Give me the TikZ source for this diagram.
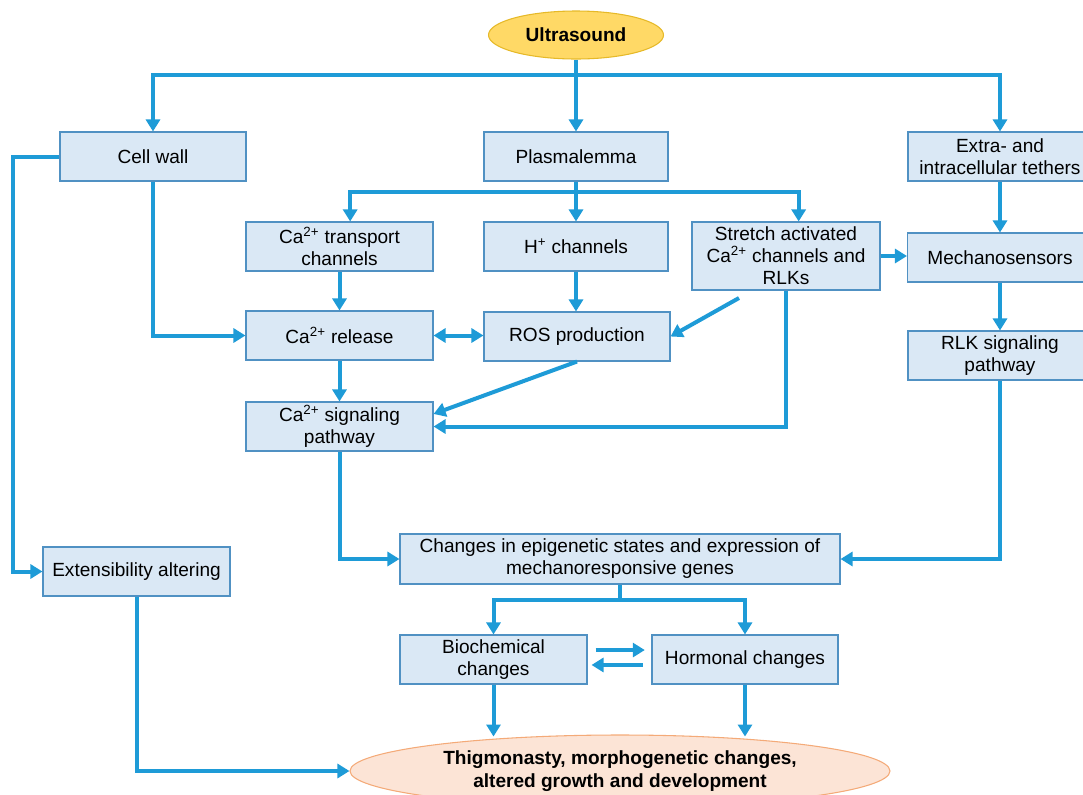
\documentclass[tikz,border=0pt]{standalone}
\usepackage{fontspec}
\setmainfont{Liberation Sans}
\usetikzlibrary{arrows.meta,shapes.geometric}
\definecolor{ln}{RGB}{30,155,215}
\definecolor{bxfill}{RGB}{218,232,245}
\definecolor{bxdraw}{RGB}{80,145,195}
\definecolor{usfill}{RGB}{255,217,102}
\definecolor{usdraw}{RGB}{230,185,40}
\definecolor{endfill}{RGB}{252,228,214}
\definecolor{enddraw}{RGB}{244,170,120}
\begin{document}
\begin{tikzpicture}[x=0.75pt,y=-0.75pt,
  txt/.style={font=\fontsize{14.3}{16.5}\selectfont},
  box/.style={txt,draw=bxdraw,fill=bxfill,line width=0.8pt,align=center,inner sep=0pt},
  bw/.style={minimum width=#1*0.75pt},
  bh/.style={minimum height=#1*0.75pt},
  tip/.tip={Triangle[length=9pt,width=10.5pt]},
  conn/.style={draw=ln,line width=3pt,-tip},
  plain/.style={draw=ln,line width=3pt},
  oval/.style={ellipse,inner sep=0pt,align=center,line width=0.8pt,font=\fontsize{14.3}{17}\selectfont\bfseries}]
\useasboundingbox (0,0) rectangle (1083,794);

% nodes
\node[oval,draw=usdraw,fill=usfill,bw=175,bh=48] (us) at (576,35) {Ultrasound};
\node[box,bw=186,bh=49] (cw) at (153,156.5) {Cell wall};
\node[box,bw=184,bh=49] (pl) at (576,156.5) {Plasmalemma};
\node[box,bw=184,bh=49] (ex) at (1000,156.5) {Extra- and\\intracellular tethers};
\node[box,bw=187,bh=49] (cat) at (339.5,246.5) {Ca\textsuperscript{2+} transport\\channels};
\node[box,bw=184,bh=49] (hp) at (576,246.5) {H\textsuperscript{+} channels};
\node[box,bw=188,bh=68] (st) at (786,256) {Stretch activated\\Ca\textsuperscript{2+} channels and\\RLKs};
\node[box,bw=185,bh=49] (me) at (1000,257.5) {Mechanosensors};
\node[box,bw=187,bh=49] (car) at (339.5,335.5) {Ca\textsuperscript{2+} release};
\node[box,bw=186,bh=49] (ros) at (577,336.5) {ROS production};
\node[box,bw=184,bh=49] (rlk) at (1000,355.5) {RLK signaling\\pathway};
\node[box,bw=187,bh=49] (cas) at (339.5,426.5) {Ca\textsuperscript{2+} signaling\\pathway};
\node[box,bw=440,bh=50] (chg) at (620,559) {Changes in epigenetic states and expression of\\mechanoresponsive genes};
\node[box,bw=187,bh=49] (ext) at (136.5,571.5) {Extensibility altering};
\node[box,bw=187,bh=49] (bio) at (493.5,659.5) {Biochemical\\changes};
\node[box,bw=186,bh=49] (hor) at (745,659.5) {Hormonal changes};
\node[oval,draw=enddraw,fill=endfill,bw=540,bh=72] (end) at (620,771) {Thigmonasty, morphogenetic changes,\\altered growth and development};

% top distribution
\coordinate (top) at (576,75);
\draw[plain] (us.south) -- (top);
\draw[conn] (top) -| (cw.north);
\draw[conn] (top) -- (pl.north);
\draw[conn] (top) -| (ex.north);

% plasmalemma branches
\coordinate (pb) at (576,192);
\draw[plain] (pl.south) -- (pb);
\draw[conn] (pb) -| ([xshift=8pt]cat.north);
\draw[conn] (pb) -- (hp.north);
\draw[conn] (pb) -| ([xshift=9.5pt]st.north);

% cell wall
\draw[conn] (cw.west) -- ++(-46,0) |- (ext.west);
\draw[conn] (cw.south) |- (car.west);

% middle column
\draw[conn] (cat.south) -- (car.north);
\draw[conn] (hp.south) -- (hp.south |- ros.north);
\draw[draw=ln,line width=3pt,tip-tip] (car.east) -- (car.east -| ros.west);
\coordinate (sf) at (739,298);
\draw[conn] (sf) -- (ros.east);
\draw[conn] (st.east) -- (st.east -| me.west);
\draw[conn] (st.south) |- (cas.east);
\draw[conn] (ros.south) -- ([yshift=9.4pt]cas.east);
\draw[conn] (car.south) -- (cas.north);
\draw[conn] (cas.south) |- (chg.west);

% right column
\draw[conn] (ex.south) -- (me.north);
\draw[conn] (me.south) -- (rlk.north);
\draw[conn] (rlk.south) |- (chg.east);

% lower part
\coordinate (cb) at (620,600);
\draw[plain] (chg.south) -- (cb);
\draw[conn] (cb) -| (bio.north);
\draw[conn] (cb) -| (hor.north);
\draw[conn] ([xshift=6pt,yshift=7.1pt]bio.east) -- ([xshift=-5pt,yshift=7.1pt]hor.west);
\draw[conn] ([xshift=-6.5pt,yshift=-4.1pt]hor.west) -- ([xshift=3pt,yshift=-4.1pt]bio.east);
\draw[conn] (bio.south) -- ++(0,52);
\draw[conn] (hor.south) -- ++(0,52);
\draw[conn] (ext.south) |- (end.west);
\end{tikzpicture}
\end{document}
